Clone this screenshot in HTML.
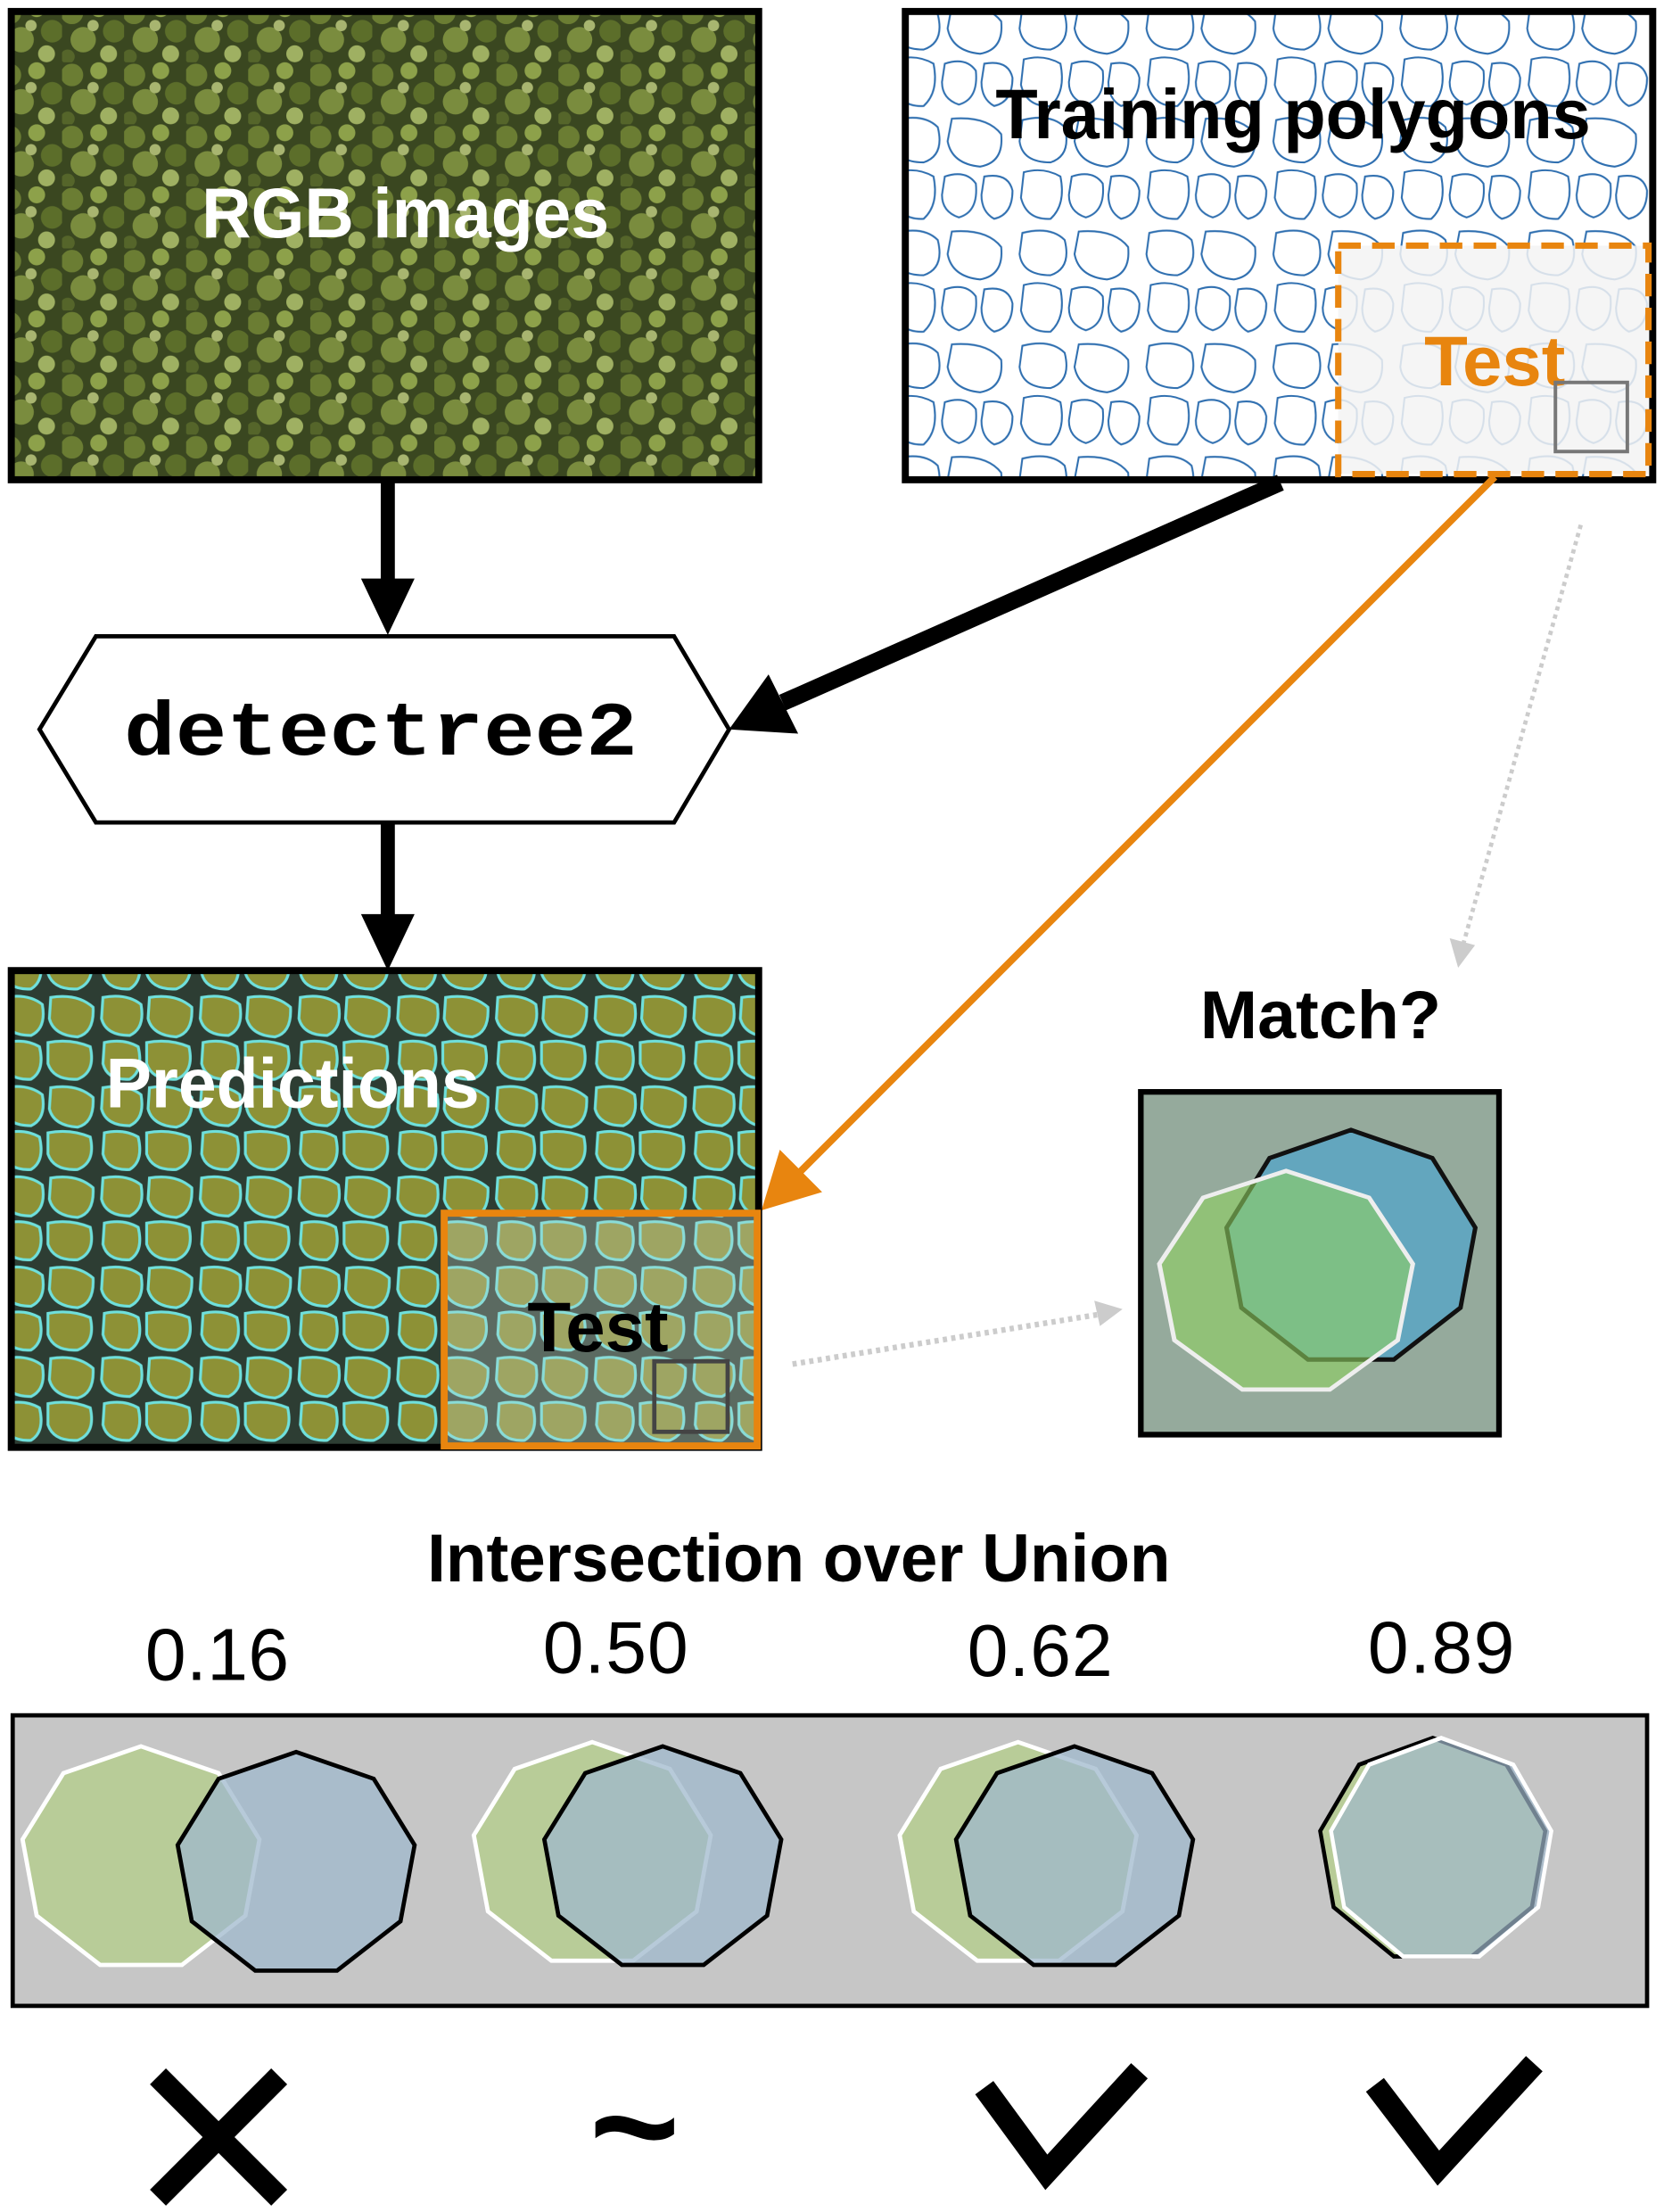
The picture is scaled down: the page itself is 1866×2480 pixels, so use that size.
<!DOCTYPE html>
<html><head><meta charset="utf-8">
<style>html,body{margin:0;padding:0;background:#fff}svg{display:block}</style></head>
<body>
<svg width="1866" height="2480" viewBox="0 0 1180 1568" xmlns="http://www.w3.org/2000/svg">
<defs>
<pattern id="forest" width="44" height="44" patternUnits="userSpaceOnUse">
<rect width="44" height="44" fill="#3a4720"/>
<circle cx="7" cy="9" r="8" fill="#6b7d33"/>
<circle cx="26" cy="6" r="6" fill="#8da14a"/>
<circle cx="37" cy="22" r="8" fill="#5c6e2a"/>
<circle cx="15" cy="28" r="9" fill="#7a8c3e"/>
<circle cx="33" cy="38" r="6" fill="#9fb062"/>
<circle cx="4" cy="40" r="5" fill="#55652a"/>
<circle cx="22" cy="18" r="4" fill="#a8b570"/>
</pattern>
<pattern id="polys" width="90" height="80" patternUnits="userSpaceOnUse">
<rect width="90" height="80" fill="#fff"/>
<g fill="none" stroke="#2f6fb0" stroke-width="1.3">
<path d="M5 5 Q25 0 35 10 Q40 30 25 35 Q5 35 3 20Z"/>
<path d="M45 4 Q70 2 80 15 Q82 35 65 38 Q45 36 42 20Z"/>
<path d="M6 42 Q20 38 32 45 Q36 65 25 75 Q8 76 4 60Z"/>
<path d="M40 45 Q55 40 62 50 Q64 70 50 74 Q38 70 38 58Z"/>
<path d="M68 45 Q85 42 88 55 Q88 72 75 75 Q66 70 66 58Z"/>
</g>
</pattern>
<pattern id="preds" width="70" height="64" patternUnits="userSpaceOnUse">
<rect width="70" height="64" fill="#2d3d33"/>
<g fill="#8d9136" stroke="#6fe0dc" stroke-width="2">
<path d="M3 3 Q20 0 30 8 Q33 25 22 30 Q5 30 2 18Z"/>
<path d="M36 3 Q55 0 66 10 Q67 28 55 31 Q38 30 35 18Z"/>
<path d="M4 35 Q18 32 28 38 Q32 55 22 61 Q6 62 3 50Z"/>
<path d="M34 35 Q50 32 64 38 Q68 56 55 61 Q38 62 34 50Z"/>
</g>
</pattern>
<polygon id="oct" points="0,-80 55,-61 84,-14 74,40 29,75 -29,75 -74,40 -84,-14 -55,-61"/>
</defs>

<!-- RGB images -->
<rect x="8" y="8" width="530" height="332" fill="url(#forest)" stroke="#000" stroke-width="5"/>
<text x="143" y="168" textLength="289" lengthAdjust="spacingAndGlyphs" font-family="Liberation Sans, sans-serif" font-weight="bold" font-size="50" fill="#fff">RGB images</text>

<!-- Training polygons -->
<rect x="642" y="8" width="530" height="332" fill="url(#polys)" stroke="#000" stroke-width="5"/>
<rect x="949" y="174" width="220" height="162" fill="#f3f3f3" fill-opacity="0.85" stroke="#e8850f" stroke-width="4.5" stroke-dasharray="16,8"/>
<text x="706" y="98" textLength="422" lengthAdjust="spacingAndGlyphs" font-family="Liberation Sans, sans-serif" font-weight="bold" font-size="50" fill="#000">Training polygons</text>
<text x="1010" y="273" textLength="100" lengthAdjust="spacingAndGlyphs" font-family="Liberation Sans, sans-serif" font-weight="bold" font-size="50" fill="#e8850f">Test</text>
<rect x="1103" y="271" width="51" height="49" fill="none" stroke="#777" stroke-width="2.5"/>

<!-- arrows -->
<line x1="275" y1="342" x2="275" y2="412" stroke="#000" stroke-width="10"/>
<polygon points="256,410 294,410 275,450" fill="#000"/>
<line x1="275" y1="583" x2="275" y2="650" stroke="#000" stroke-width="10"/>
<polygon points="256,648 294,648 275,688" fill="#000"/>
<line x1="908" y1="342" x2="555" y2="498" stroke="#000" stroke-width="12"/>
<polygon points="517,517 545,478 566,520" fill="#000"/>
<line x1="1060" y1="338" x2="566" y2="832" stroke="#e8850f" stroke-width="5"/>
<polygon points="540,858 553,815 583,845" fill="#e8850f"/>
<line x1="1121" y1="372" x2="1038" y2="668" stroke="#ccc" stroke-width="3" stroke-dasharray="3,3"/>
<polygon points="1028,665 1046,670 1034,686" fill="#ccc"/>
<line x1="562" y1="967" x2="778" y2="932" stroke="#ccc" stroke-width="4" stroke-dasharray="3,3"/>
<polygon points="776,922 796,928 780,940" fill="#ccc"/>

<!-- detectree2 -->
<polygon points="28,517 68,451 478,451 517,517 478,583 68,583" fill="#fff" stroke="#000" stroke-width="3"/>
<text x="88" y="535" textLength="364" lengthAdjust="spacingAndGlyphs" font-family="Liberation Mono, monospace" font-weight="bold" font-size="54" fill="#000">detectree2</text>

<!-- Predictions -->
<rect x="8" y="688" width="530" height="338" fill="url(#preds)" stroke="#000" stroke-width="5"/>
<rect x="315" y="860" width="222" height="165" fill="#c8d4cc" fill-opacity="0.3" stroke="#e8850f" stroke-width="5"/>
<text x="75" y="785" textLength="265" lengthAdjust="spacingAndGlyphs" font-family="Liberation Sans, sans-serif" font-weight="bold" font-size="50" fill="#fff">Predictions</text>
<text x="374" y="958" textLength="100" lengthAdjust="spacingAndGlyphs" font-family="Liberation Sans, sans-serif" font-weight="bold" font-size="50" fill="#000">Test</text>
<rect x="464" y="965" width="52" height="50" fill="none" stroke="#444" stroke-width="3"/>

<!-- Match -->
<text x="851" y="736" textLength="171" lengthAdjust="spacingAndGlyphs" font-family="Liberation Sans, sans-serif" font-weight="bold" font-size="48" fill="#000">Match?</text>
<rect x="809" y="774" width="254" height="243" fill="#95aa9c" stroke="#000" stroke-width="4"/>
<use href="#oct" transform="translate(958,885) scale(1.05,1.05)" fill="#5aa6c4" fill-opacity="0.85" stroke="#111" stroke-width="3"/>
<use href="#oct" transform="translate(912,910) scale(1.07,1.0)" fill="#8fd060" fill-opacity="0.6" stroke="#eee" stroke-width="3"/>

<!-- IoU -->
<text x="303" y="1121" textLength="527" lengthAdjust="spacingAndGlyphs" font-family="Liberation Sans, sans-serif" font-weight="bold" font-size="48" fill="#000">Intersection over Union</text>
<g font-family="Liberation Sans, sans-serif" font-size="52" fill="#000" lengthAdjust="spacingAndGlyphs">
<text x="103" y="1191" textLength="102">0.16</text><text x="385" y="1186" textLength="103">0.50</text><text x="686" y="1188" textLength="103">0.62</text><text x="970" y="1186" textLength="104">0.89</text>
</g>
<rect x="9" y="1216" width="1159" height="206" fill="#c6c6c6" stroke="#000" stroke-width="3"/>
<g stroke-width="3">
<use href="#oct" transform="translate(100,1318)" fill="#b8cc98" stroke="#fff"/>
<use href="#oct" transform="translate(210,1322)" fill="#9fb8cc" fill-opacity="0.75" stroke="#000"/>
<use href="#oct" transform="translate(420,1315)" fill="#b8cc98" stroke="#fff"/>
<use href="#oct" transform="translate(470,1318)" fill="#9fb8cc" fill-opacity="0.75" stroke="#000"/>
<use href="#oct" transform="translate(722,1315)" fill="#b8cc98" stroke="#fff"/>
<use href="#oct" transform="translate(762,1318)" fill="#9fb8cc" fill-opacity="0.75" stroke="#000"/>
<use href="#oct" transform="translate(1016,1312) scale(0.95,1)" fill="#b8cc98" stroke="#000"/>
<use href="#oct" transform="translate(1022,1312) scale(0.93,1)" fill="#9fb8cc" fill-opacity="0.7" stroke="#fff"/>
</g>

<!-- symbols -->
<g stroke="#000" stroke-width="16" fill="none">
<line x1="112" y1="1472" x2="198" y2="1558"/><line x1="198" y1="1472" x2="112" y2="1558"/>
<polyline points="698,1480 742,1540 808,1468"/>
<polyline points="975,1478 1020,1537 1088,1463"/>
</g>
<text x="450" y="1545" font-family="Liberation Sans, sans-serif" font-weight="bold" font-size="110" fill="#000" text-anchor="middle">~</text>
</svg>
</body></html>
